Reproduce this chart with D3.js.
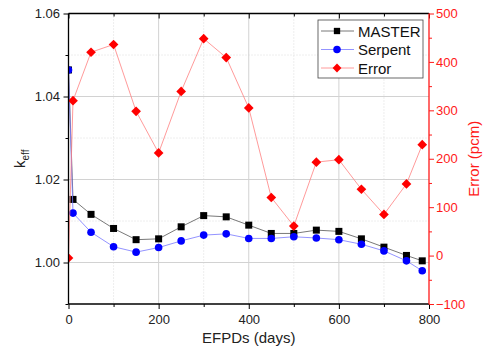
<!DOCTYPE html>
<html>
<head>
<meta charset="utf-8">
<script src="https://cdn.jsdelivr.net/npm/d3@7"></script>
<style>
  body { margin: 0; background: #fff; }
  svg text { font-family: "Liberation Sans", Arial, sans-serif; }
</style>
</head>
<body>
<svg id="chart" width="487" height="356"></svg>
<script>
// data
const days = [0, 10, 50, 100, 150, 200, 250, 300, 350, 400, 450, 500, 550, 600, 650, 700, 750, 785];
const master = [1.0464, 1.0152, 1.0116, 1.0082, 1.0055, 1.0057, 1.0086, 1.0113, 1.0110, 1.0090, 1.0070, 1.0070, 1.0078, 1.0075, 1.0057, 1.0037, 1.0017, 1.0004];
const serpent = [1.0464, 1.0119, 1.0073, 1.0038, 1.0025, 1.0036, 1.0052, 1.0066, 1.0069, 1.0058, 1.0058, 1.0062, 1.0059, 1.0055, 1.0044, 1.0028, 1.0004, 0.9980];
const errorPcm = [-5, 320, 420, 436, 298, 212, 339, 448, 409, 305, 120, 61, 193, 198, 137, 85, 148, 229];

const xTicks = [0, 200, 400, 600, 800];
const xMinor = [100, 300, 500, 700];
const kTicks = [1.00, 1.02, 1.04, 1.06];
const kMinor = [0.99, 1.01, 1.03, 1.05];
const eTicks = [-100, 0, 100, 200, 300, 400, 500];
const eMinor = [-50, 50, 150, 250, 350, 450];
const seriesNames = ["MASTER", "Serpent", "Error"];

const width = 487, height = 356;
const margin = {top: 13.5, right: 58, bottom: 52, left: 68.5};
const plotW = width - margin.left - margin.right;
const plotH = height - margin.top - margin.bottom;

const svg = d3.select("#chart");
const g = svg.append("g").attr("transform", `translate(${margin.left},${margin.top})`);

const x = d3.scaleLinear().domain([0, 800]).range([0, plotW]);
const yK = d3.scaleLinear().domain([0.99, 1.06]).range([plotH, 0]);
const yE = d3.scaleLinear().domain([-100, 500]).range([plotH, 0]);

// grid lines
g.selectAll(".gx-minor").data(xMinor).join("line")
    .attr("x1", d => x(d)).attr("x2", d => x(d))
    .attr("y1", 0).attr("y2", plotH)
    .attr("stroke", "#dcdcdc").attr("stroke-dasharray", "1,2");
g.selectAll(".gy-minor").data(kMinor.filter(d => d > 0.99)).join("line")
    .attr("x1", 0).attr("x2", plotW)
    .attr("y1", d => yK(d)).attr("y2", d => yK(d))
    .attr("stroke", "#dcdcdc").attr("stroke-dasharray", "1,2");
g.selectAll(".gx-major").data(xTicks.slice(1, -1)).join("line")
    .attr("x1", d => x(d)).attr("x2", d => x(d))
    .attr("y1", 0).attr("y2", plotH)
    .attr("stroke", "#d2d2d2");
g.selectAll(".gy-major").data(kTicks.slice(0, -1)).join("line")
    .attr("x1", 0).attr("x2", plotW)
    .attr("y1", d => yK(d)).attr("y2", d => yK(d))
    .attr("stroke", "#d2d2d2");

// clip for the series
svg.append("defs").append("clipPath").attr("id", "plotClip")
  .append("rect").attr("width", plotW).attr("height", plotH);
const plot = g.append("g").attr("clip-path", "url(#plotClip)");

const lineK = d3.line().x((d, i) => x(days[i])).y(d => yK(d));
const lineE = d3.line().x((d, i) => x(days[i])).y(d => yE(d));

// MASTER
plot.append("path").attr("d", lineK(master))
    .attr("fill", "none").attr("stroke", "#555").attr("stroke-width", 0.8);
plot.selectAll(".sq").data(master).join("rect")
    .attr("x", (d, i) => x(days[i]) - 3.5).attr("y", d => yK(d) - 3.5)
    .attr("width", 7).attr("height", 7).attr("fill", "#000");

// Serpent
plot.append("path").attr("d", lineK(serpent))
    .attr("fill", "none").attr("stroke", "#7777ff").attr("stroke-width", 0.8);
plot.selectAll(".ci").data(serpent).join("circle")
    .attr("cx", (d, i) => x(days[i])).attr("cy", d => yK(d))
    .attr("r", 3.8).attr("fill", "#0000ff");

// Error
plot.append("path").attr("d", lineE(errorPcm))
    .attr("fill", "none").attr("stroke", "#ff8080").attr("stroke-width", 0.8);
const diamond = d3.symbol().type(d3.symbolDiamond2).size(60);
plot.selectAll(".di").data(errorPcm).join("path")
    .attr("d", diamond)
    .attr("transform", (d, i) => `translate(${x(days[i])},${yE(d)})`)
    .attr("fill", "#ff0000");

// axes
const labelColor = "#222";
function styleAxis(sel, color) {
    sel.select(".domain").remove();
    sel.selectAll("line").attr("stroke", color);
    sel.selectAll("text").attr("fill", color).attr("font-size", "13px");
}

const bottomAxis = g.append("g").attr("transform", `translate(0,${plotH})`)
    .call(d3.axisBottom(x).tickValues(xTicks).tickSize(5).tickPadding(6).tickFormat(d3.format("d")));
styleAxis(bottomAxis, "#000");
bottomAxis.selectAll("text").attr("fill", labelColor);
g.append("g").attr("transform", `translate(0,${plotH})`)
    .call(d3.axisBottom(x).tickValues(xMinor).tickSize(3).tickFormat(""))
    .call(s => styleAxis(s, "#000"));

const topAxis = g.append("g")
    .call(d3.axisBottom(x).tickValues(xTicks).tickSize(5).tickFormat(""));
styleAxis(topAxis, "#000");
g.append("g")
    .call(d3.axisBottom(x).tickValues(xMinor).tickSize(3).tickFormat(""))
    .call(s => styleAxis(s, "#000"));

const leftAxis = g.append("g")
    .call(d3.axisLeft(yK).tickValues(kTicks).tickSize(5).tickPadding(3.5).tickFormat(d3.format(".2f")));
styleAxis(leftAxis, "#000");
leftAxis.selectAll("text").attr("fill", labelColor);
g.append("g")
    .call(d3.axisLeft(yK).tickValues(kMinor).tickSize(3).tickFormat(""))
    .call(s => styleAxis(s, "#000"));

const red = "#ff1a1a";
const rightAxis = g.append("g").attr("transform", `translate(${plotW},0)`)
    .call(d3.axisRight(yE).tickValues(eTicks).tickSize(5).tickPadding(2).tickFormat(d => d < 0 ? "\u2212" + Math.abs(d) : d));
styleAxis(rightAxis, red);
g.append("g").attr("transform", `translate(${plotW},0)`)
    .call(d3.axisRight(yE).tickValues(eMinor).tickSize(3).tickFormat(""))
    .call(s => styleAxis(s, red));

// frame
g.append("line").attr("x1", 0).attr("x2", plotW).attr("y1", 0).attr("y2", 0).attr("stroke", "#000").attr("stroke-width", 1.3);
g.append("line").attr("x1", 0).attr("x2", plotW).attr("y1", plotH).attr("y2", plotH).attr("stroke", "#000").attr("stroke-width", 1.3);
g.append("line").attr("x1", 0).attr("x2", 0).attr("y1", 0).attr("y2", plotH).attr("stroke", "#000").attr("stroke-width", 1.3);
g.append("line").attr("x1", plotW).attr("x2", plotW).attr("y1", 0).attr("y2", plotH).attr("stroke", red).attr("stroke-width", 1.3);

// axis titles
svg.append("text")
    .attr("x", margin.left + plotW / 2).attr("y", 343)
    .attr("text-anchor", "middle").attr("font-size", "15px").attr("fill", labelColor)
    .text("EFPDs (days)");

const kTitle = svg.append("text")
    .attr("transform", `translate(25,${margin.top + plotH / 2}) rotate(-90)`)
    .attr("text-anchor", "middle").attr("font-size", "15px").attr("fill", labelColor);
kTitle.append("tspan").text("k");
kTitle.append("tspan").attr("font-size", "10px").attr("dy", 4).text("eff");

svg.append("text")
    .attr("transform", `translate(479,${margin.top + plotH / 2}) rotate(-90)`)
    .attr("text-anchor", "middle").attr("font-size", "15px").attr("fill", red)
    .text("Error (pcm)");

// legend
const legend = svg.append("g").attr("transform", "translate(318,20)");
legend.append("rect").attr("width", 105).attr("height", 58)
    .attr("fill", "#fff").attr("stroke", "#444").attr("stroke-width", 0.8);
const legendStyle = [
    {line: "#555", fill: "#000", shape: d3.symbolSquare, size: 40},
    {line: "#7777ff", fill: "#0000ff", shape: d3.symbolCircle, size: 45},
    {line: "#ff8080", fill: "#ff0000", shape: d3.symbolDiamond2, size: 50}
];
seriesNames.forEach((name, i) => {
    const row = legend.append("g").attr("transform", `translate(0,${11 + i * 18.5})`);
    row.append("line").attr("x1", 3).attr("x2", 36).attr("stroke", legendStyle[i].line).attr("stroke-width", 0.8);
    row.append("path").attr("d", d3.symbol().type(legendStyle[i].shape).size(legendStyle[i].size))
        .attr("transform", "translate(19,0)").attr("fill", legendStyle[i].fill);
    row.append("text").attr("x", 40).attr("y", 5.5).attr("font-size", "15px").attr("fill", "#111").text(name);
});
</script>
</body>
</html>
